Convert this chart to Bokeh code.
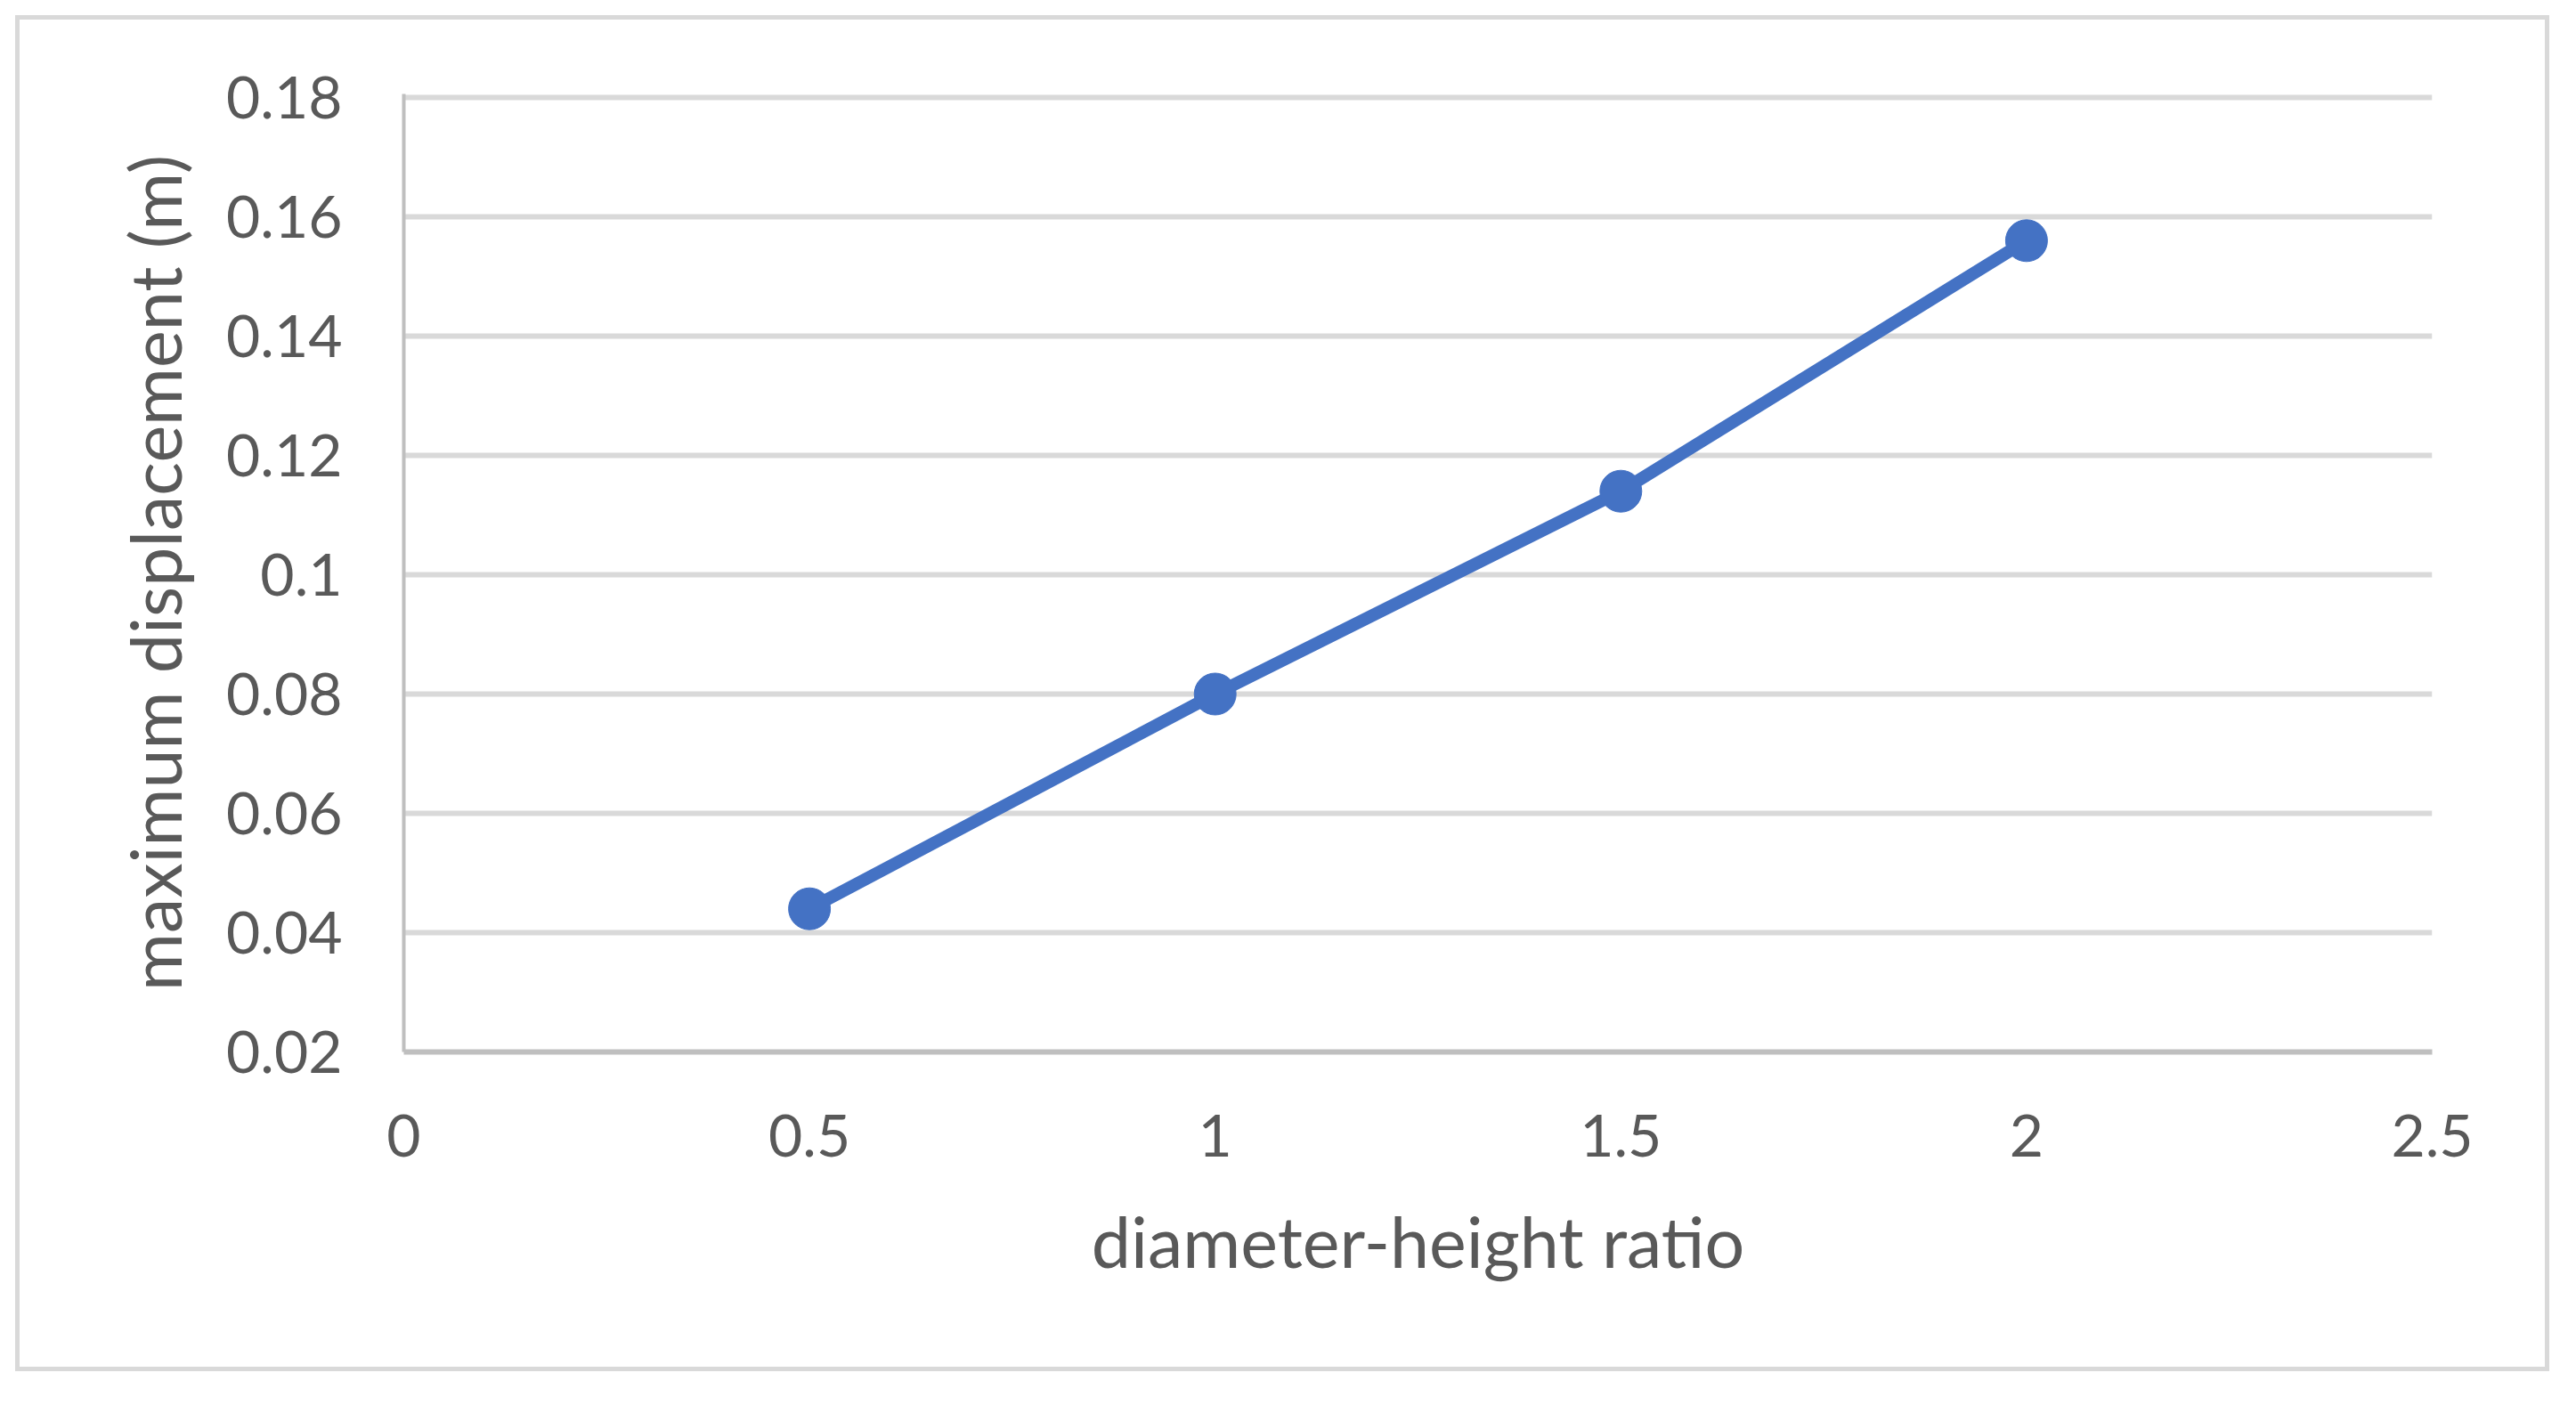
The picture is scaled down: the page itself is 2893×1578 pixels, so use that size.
from bokeh.plotting import figure
from bokeh.models import FixedTicker, Range1d, Spacer
from bokeh.layouts import column, row
from bokeh.embed import file_html
from bokeh.resources import INLINE

# ---- data ----
ratio = [0.5, 1.0, 1.5, 2.0]
displacement = [0.044, 0.080, 0.114, 0.156]

x_ticks = [0, 0.5, 1, 1.5, 2, 2.5]
x_tick_labels = ["0", "0.5", "1", "1.5", "2", "2.5"]
y_ticks = [0.02, 0.04, 0.06, 0.08, 0.10, 0.12, 0.14, 0.16, 0.18]
y_tick_labels = ["0.02", "0.04", "0.06", "0.08", "0.1", "0.12", "0.14", "0.16", "0.18"]

x_title = "diameter-height ratio"
y_title = "maximum displacement (m)"

FONT = "Lato"
TEXT = "#595959"
BLUE = "#4472C4"

fig = figure(
    width=2846, height=1523,
    output_backend="svg", toolbar_location=None,
    x_range=Range1d(0, 2.5), y_range=Range1d(0.02, 0.1806),
    min_border_left=431, min_border_right=137,
    min_border_top=83, min_border_bottom=364,
)
fig.styles = {"border": "5px solid #d9d9d9"}
fig.outline_line_color = None
fig.background_fill_color = "white"
fig.border_fill_color = "white"

# grid
fig.xgrid.grid_line_color = None
fig.ygrid.ticker = FixedTicker(ticks=y_ticks)
fig.ygrid.grid_line_color = "#d9d9d9"
fig.ygrid.grid_line_width = 6

# axes
fig.xaxis.ticker = FixedTicker(ticks=x_ticks)
fig.yaxis.ticker = FixedTicker(ticks=y_ticks)
fig.xaxis.major_label_overrides = {t: l for t, l in zip(x_ticks, x_tick_labels)}
fig.yaxis.major_label_overrides = {t: l for t, l in zip(y_ticks, y_tick_labels)}

for ax in (fig.xaxis[0], fig.yaxis[0]):
    ax.major_tick_line_color = None
    ax.minor_tick_line_color = None
    ax.axis_line_color = "#bfbfbf"
    ax.major_label_text_font = FONT
    ax.major_label_text_font_size = "66px"
    ax.major_label_text_color = TEXT
    ax.axis_label_text_font = FONT
    ax.axis_label_text_font_size = "79px"
    ax.axis_label_text_color = TEXT
    ax.axis_label_text_font_style = "normal"

fig.xaxis.axis_line_width = 6
fig.yaxis.axis_line_width = 4
fig.xaxis.axis_label = x_title
fig.yaxis.axis_label = y_title
fig.xaxis.major_label_standoff = 64
fig.yaxis.major_label_standoff = 63
fig.xaxis.axis_label_standoff = 44
fig.yaxis.axis_label_standoff = 30

# series
fig.line(ratio, displacement, line_color=BLUE, line_width=14, line_join="round")
fig.scatter(ratio, displacement, size=47, fill_color=BLUE, line_color=BLUE)

p = column(Spacer(height=17, width=10), row(Spacer(width=17, height=10), fig))

open("out.html", "w").write(file_html(p, INLINE))
